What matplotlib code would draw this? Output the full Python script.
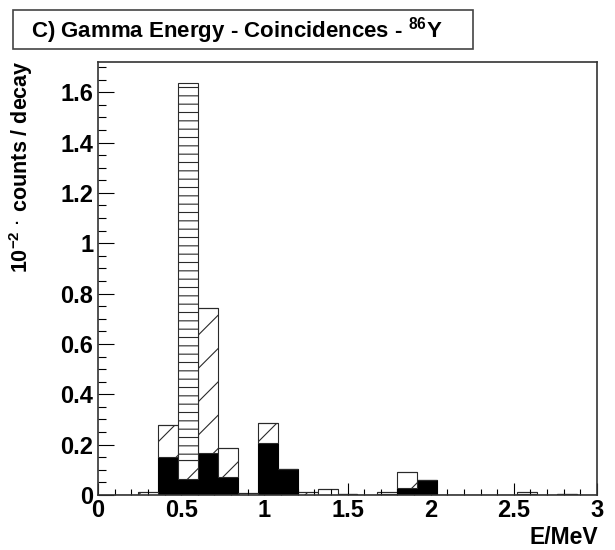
import matplotlib
matplotlib.use("Agg")
import matplotlib.pyplot as plt
from matplotlib.patches import Rectangle
from matplotlib.ticker import MultipleLocator, FormatStrFormatter
import numpy as np

# ---- data (25 bins of 0.12 MeV from 0 to 3 MeV) ----
bin_width = 0.12
bin_edges_left = [round(i * bin_width, 2) for i in range(25)]
black_vals = [0, 0, 0, 0.152, 0.062, 0.165, 0.073, 0, 0.205, 0.103, 0, 0, 0.004,
              0, 0.003, 0.029, 0.060, 0, 0, 0, 0, 0.002, 0, 0.004, 0]
diag_vals = [0, 0, 0.011, 0.128, 0.078, 0.576, 0.112, 0.008, 0.080, 0, 0.011, 0.022, 0,
             0, 0.010, 0.061, 0, 0, 0, 0, 0, 0.009, 0, 0, 0]
horiz_vals = [0, 0, 0, 0, 1.495, 0, 0, 0, 0, 0, 0, 0, 0,
              0, 0, 0, 0, 0, 0, 0, 0, 0, 0, 0, 0]
x_ticks = [0, 0.5, 1, 1.5, 2, 2.5, 3]
y_ticks = [0, 0.2, 0.4, 0.6, 0.8, 1.0, 1.2, 1.4, 1.6]

plt.rcParams['font.family'] = ['Liberation Sans', 'DejaVu Sans']
plt.rcParams['font.weight'] = 'bold'
plt.rcParams['mathtext.fontset'] = 'custom'
plt.rcParams['mathtext.rm'] = 'Liberation Sans:bold'
plt.rcParams['mathtext.it'] = 'Liberation Sans:bold'
plt.rcParams['mathtext.bf'] = 'Liberation Sans:bold'
plt.rcParams['mathtext.default'] = 'rm'
plt.rcParams['hatch.linewidth'] = 0.8

fig = plt.figure(figsize=(6.15, 5.5), dpi=100)
ax = fig.add_axes([98/615, 55/550, 499/615, 433/550])

black = np.array(black_vals)
diag = np.array(diag_vals)
horiz = np.array(horiz_vals)

ax.bar(bin_edges_left, black, width=bin_width, align='edge', color='black',
       edgecolor='black', linewidth=0.8)
ax.bar(bin_edges_left, diag, width=bin_width, align='edge', bottom=black,
       facecolor='white', edgecolor='#2a2a2a', hatch='/', linewidth=0.8)
ax.bar(bin_edges_left, horiz, width=bin_width, align='edge', bottom=black + diag,
       facecolor='white', edgecolor='#2a2a2a', hatch='--', linewidth=0.8)

ax.set_xlim(0, 3)
ax.set_ylim(0, 1.72)
ax.set_xticks(x_ticks)
ax.set_yticks(y_ticks)
ax.xaxis.set_minor_locator(MultipleLocator(0.1))
ax.yaxis.set_minor_locator(MultipleLocator(0.05))
ax.xaxis.set_major_formatter(FormatStrFormatter('%g'))
ax.yaxis.set_major_formatter(FormatStrFormatter('%g'))
ax.tick_params(axis='x', which='major', direction='in', length=9, width=0.8,
               labelsize=17, pad=3)
ax.tick_params(axis='x', which='minor', direction='in', length=4.5, width=0.8)
ax.tick_params(axis='y', which='major', direction='in', length=11.5, width=0.8,
               labelsize=17, pad=3.5)
ax.tick_params(axis='y', which='minor', direction='in', length=5.5, width=0.8)
for lab in ax.get_xticklabels() + ax.get_yticklabels():
    lab.set_fontweight('bold')
for s in ax.spines.values():
    s.set_color('#333333')
    s.set_linewidth(1.2)

# title box
fig.patches.append(Rectangle((13/615, 1 - 49/550), 460/615, 39/550,
                             transform=fig.transFigure, facecolor='white',
                             edgecolor='#444444', linewidth=1.2))
fig.text(31/615, 1 - 31/550, 'C) Gamma Energy - Coincidences - $^{86}$Y',
         fontsize=16, fontweight='bold', ha='left', va='center')

fig.text(21/615, 1 - 60/550, '10$^{-2}$ $^{.}$ counts / decay',
         rotation=90, fontsize=15.5, fontweight='bold', ha='center', va='top')
fig.text(598/615, 1 - 538/550, 'E/MeV', fontsize=16.5, fontweight='bold',
         ha='right', va='center')

fig.savefig('out.png', dpi=100)
